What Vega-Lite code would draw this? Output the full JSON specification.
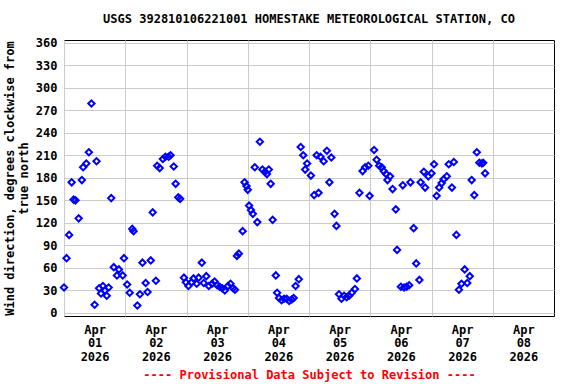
{
  "$schema": "https://vega.github.io/schema/vega-lite/v6.json",
  "width": 490,
  "height": 276,
  "autosize": {"type": "none"},
  "padding": {"left": 64, "top": 40, "right": 22, "bottom": 68},
  "background": "white",
  "title": {
    "text": "USGS 392810106221001 HOMESTAKE METEOROLOGICAL STATION, CO",
    "font": "DejaVu Sans Mono",
    "fontSize": 12,
    "fontWeight": "bold",
    "color": "black",
    "anchor": "middle",
    "offset": 11
  },
  "config": {
    "view": {"stroke": "black", "strokeWidth": 1}
  },
  "data": {
    "values": [
      {"t": "2026-04-01T00:00", "v": 34},
      {"t": "2026-04-01T01:00", "v": 73},
      {"t": "2026-04-01T02:00", "v": 104},
      {"t": "2026-04-01T03:00", "v": 174},
      {"t": "2026-04-01T03:45", "v": 151},
      {"t": "2026-04-01T04:30", "v": 150},
      {"t": "2026-04-01T05:45", "v": 126},
      {"t": "2026-04-01T07:00", "v": 177},
      {"t": "2026-04-01T07:30", "v": 194},
      {"t": "2026-04-01T08:45", "v": 199},
      {"t": "2026-04-01T09:45", "v": 214},
      {"t": "2026-04-01T10:45", "v": 279},
      {"t": "2026-04-01T12:00", "v": 11},
      {"t": "2026-04-01T12:45", "v": 202},
      {"t": "2026-04-01T13:45", "v": 33},
      {"t": "2026-04-01T14:30", "v": 26},
      {"t": "2026-04-01T15:15", "v": 36},
      {"t": "2026-04-01T16:00", "v": 30},
      {"t": "2026-04-01T16:45", "v": 23},
      {"t": "2026-04-01T17:30", "v": 34},
      {"t": "2026-04-01T18:30", "v": 153},
      {"t": "2026-04-01T19:30", "v": 61},
      {"t": "2026-04-01T20:45", "v": 50},
      {"t": "2026-04-01T21:30", "v": 58},
      {"t": "2026-04-01T23:00", "v": 50},
      {"t": "2026-04-01T23:30", "v": 73},
      {"t": "2026-04-02T00:45", "v": 38},
      {"t": "2026-04-02T01:45", "v": 27},
      {"t": "2026-04-02T02:45", "v": 112},
      {"t": "2026-04-02T03:15", "v": 109},
      {"t": "2026-04-02T04:45", "v": 10},
      {"t": "2026-04-02T05:45", "v": 25},
      {"t": "2026-04-02T06:45", "v": 67},
      {"t": "2026-04-02T08:00", "v": 40},
      {"t": "2026-04-02T08:45", "v": 28},
      {"t": "2026-04-02T10:00", "v": 70},
      {"t": "2026-04-02T10:45", "v": 134},
      {"t": "2026-04-02T12:00", "v": 43},
      {"t": "2026-04-02T12:30", "v": 196},
      {"t": "2026-04-02T13:30", "v": 193},
      {"t": "2026-04-02T14:45", "v": 205},
      {"t": "2026-04-02T15:45", "v": 208},
      {"t": "2026-04-02T17:00", "v": 208},
      {"t": "2026-04-02T17:45", "v": 210},
      {"t": "2026-04-02T19:00", "v": 195},
      {"t": "2026-04-02T19:45", "v": 172},
      {"t": "2026-04-02T20:45", "v": 154},
      {"t": "2026-04-02T21:30", "v": 152},
      {"t": "2026-04-02T23:00", "v": 47},
      {"t": "2026-04-02T23:45", "v": 41},
      {"t": "2026-04-03T00:45", "v": 36},
      {"t": "2026-04-03T02:00", "v": 41},
      {"t": "2026-04-03T02:45", "v": 46},
      {"t": "2026-04-03T04:00", "v": 39},
      {"t": "2026-04-03T04:45", "v": 47},
      {"t": "2026-04-03T06:00", "v": 67},
      {"t": "2026-04-03T06:45", "v": 40},
      {"t": "2026-04-03T07:45", "v": 49},
      {"t": "2026-04-03T08:45", "v": 36},
      {"t": "2026-04-03T10:00", "v": 39},
      {"t": "2026-04-03T11:00", "v": 42},
      {"t": "2026-04-03T12:00", "v": 37},
      {"t": "2026-04-03T13:00", "v": 35},
      {"t": "2026-04-03T14:00", "v": 33},
      {"t": "2026-04-03T15:00", "v": 30},
      {"t": "2026-04-03T16:15", "v": 36},
      {"t": "2026-04-03T17:15", "v": 39},
      {"t": "2026-04-03T18:15", "v": 33},
      {"t": "2026-04-03T19:00", "v": 31},
      {"t": "2026-04-03T19:45", "v": 76},
      {"t": "2026-04-03T20:30", "v": 79},
      {"t": "2026-04-03T22:00", "v": 109},
      {"t": "2026-04-03T22:45", "v": 174},
      {"t": "2026-04-03T23:30", "v": 169},
      {"t": "2026-04-04T00:00", "v": 164},
      {"t": "2026-04-04T00:30", "v": 143},
      {"t": "2026-04-04T01:15", "v": 137},
      {"t": "2026-04-04T02:00", "v": 132},
      {"t": "2026-04-04T02:45", "v": 194},
      {"t": "2026-04-04T03:45", "v": 121},
      {"t": "2026-04-04T04:45", "v": 228},
      {"t": "2026-04-04T05:45", "v": 191},
      {"t": "2026-04-04T06:45", "v": 188},
      {"t": "2026-04-04T07:30", "v": 185},
      {"t": "2026-04-04T08:15", "v": 191},
      {"t": "2026-04-04T09:00", "v": 172},
      {"t": "2026-04-04T09:45", "v": 124},
      {"t": "2026-04-04T11:00", "v": 50},
      {"t": "2026-04-04T11:30", "v": 27},
      {"t": "2026-04-04T12:15", "v": 20},
      {"t": "2026-04-04T13:15", "v": 17},
      {"t": "2026-04-04T14:15", "v": 19},
      {"t": "2026-04-04T15:15", "v": 19},
      {"t": "2026-04-04T16:15", "v": 16},
      {"t": "2026-04-04T17:15", "v": 18},
      {"t": "2026-04-04T18:00", "v": 20},
      {"t": "2026-04-04T18:45", "v": 36},
      {"t": "2026-04-04T20:00", "v": 45},
      {"t": "2026-04-04T20:45", "v": 221},
      {"t": "2026-04-04T21:45", "v": 210},
      {"t": "2026-04-04T22:30", "v": 191},
      {"t": "2026-04-04T23:15", "v": 199},
      {"t": "2026-04-05T00:45", "v": 183},
      {"t": "2026-04-05T02:00", "v": 157},
      {"t": "2026-04-05T03:00", "v": 210},
      {"t": "2026-04-05T03:45", "v": 160},
      {"t": "2026-04-05T04:30", "v": 208},
      {"t": "2026-04-05T05:45", "v": 202},
      {"t": "2026-04-05T07:00", "v": 216},
      {"t": "2026-04-05T08:00", "v": 174},
      {"t": "2026-04-05T08:45", "v": 207},
      {"t": "2026-04-05T10:00", "v": 132},
      {"t": "2026-04-05T10:45", "v": 116},
      {"t": "2026-04-05T11:45", "v": 25},
      {"t": "2026-04-05T12:45", "v": 19},
      {"t": "2026-04-05T13:45", "v": 23},
      {"t": "2026-04-05T14:45", "v": 21},
      {"t": "2026-04-05T15:45", "v": 23},
      {"t": "2026-04-05T16:45", "v": 27},
      {"t": "2026-04-05T18:00", "v": 32},
      {"t": "2026-04-05T18:45", "v": 46},
      {"t": "2026-04-05T19:45", "v": 160},
      {"t": "2026-04-05T21:00", "v": 189},
      {"t": "2026-04-05T22:00", "v": 194},
      {"t": "2026-04-05T23:15", "v": 196},
      {"t": "2026-04-05T23:45", "v": 156},
      {"t": "2026-04-06T01:30", "v": 217},
      {"t": "2026-04-06T02:30", "v": 204},
      {"t": "2026-04-06T03:30", "v": 196},
      {"t": "2026-04-06T04:30", "v": 194},
      {"t": "2026-04-06T05:15", "v": 189},
      {"t": "2026-04-06T06:15", "v": 185},
      {"t": "2026-04-06T06:45", "v": 177},
      {"t": "2026-04-06T07:45", "v": 182},
      {"t": "2026-04-06T08:45", "v": 165},
      {"t": "2026-04-06T10:00", "v": 138},
      {"t": "2026-04-06T10:30", "v": 84},
      {"t": "2026-04-06T12:00", "v": 35},
      {"t": "2026-04-06T12:45", "v": 170},
      {"t": "2026-04-06T13:15", "v": 34},
      {"t": "2026-04-06T14:15", "v": 35},
      {"t": "2026-04-06T15:15", "v": 37},
      {"t": "2026-04-06T15:45", "v": 174},
      {"t": "2026-04-06T17:00", "v": 113},
      {"t": "2026-04-06T18:00", "v": 66},
      {"t": "2026-04-06T19:15", "v": 44},
      {"t": "2026-04-06T19:45", "v": 174},
      {"t": "2026-04-06T21:00", "v": 188},
      {"t": "2026-04-06T21:30", "v": 167},
      {"t": "2026-04-06T22:45", "v": 182},
      {"t": "2026-04-07T00:00", "v": 186},
      {"t": "2026-04-07T01:00", "v": 198},
      {"t": "2026-04-07T02:00", "v": 156},
      {"t": "2026-04-07T03:00", "v": 167},
      {"t": "2026-04-07T04:00", "v": 173},
      {"t": "2026-04-07T04:45", "v": 178},
      {"t": "2026-04-07T06:00", "v": 182},
      {"t": "2026-04-07T06:45", "v": 198},
      {"t": "2026-04-07T08:00", "v": 167},
      {"t": "2026-04-07T08:45", "v": 201},
      {"t": "2026-04-07T09:45", "v": 104},
      {"t": "2026-04-07T10:45", "v": 31},
      {"t": "2026-04-07T11:45", "v": 39},
      {"t": "2026-04-07T13:00", "v": 58},
      {"t": "2026-04-07T14:00", "v": 40},
      {"t": "2026-04-07T15:00", "v": 49},
      {"t": "2026-04-07T15:45", "v": 177},
      {"t": "2026-04-07T16:45", "v": 157},
      {"t": "2026-04-07T17:45", "v": 214},
      {"t": "2026-04-07T18:45", "v": 200},
      {"t": "2026-04-07T19:45", "v": 199},
      {"t": "2026-04-07T20:15", "v": 200},
      {"t": "2026-04-07T21:00", "v": 186}
    ]
  },
  "mark": {
    "type": "point",
    "shape": "diamond",
    "filled": false,
    "color": "#0000ff",
    "strokeWidth": 2,
    "size": 40,
    "opacity": 1
  },
  "encoding": {
    "x": {
      "field": "t",
      "type": "temporal",
      "scale": {
        "domain": [
          {"year": 2026, "month": 4, "date": 1, "hours": 0},
          {"year": 2026, "month": 4, "date": 9, "hours": 0}
        ],
        "nice": false
      },
      "axis": {
        "values": [
          {"year": 2026, "month": 4, "date": 1},
          {"year": 2026, "month": 4, "date": 2},
          {"year": 2026, "month": 4, "date": 3},
          {"year": 2026, "month": 4, "date": 4},
          {"year": 2026, "month": 4, "date": 5},
          {"year": 2026, "month": 4, "date": 6},
          {"year": 2026, "month": 4, "date": 7},
          {"year": 2026, "month": 4, "date": 8}
        ],
        "labelExpr": "[timeFormat(datum.value, '%b'), timeFormat(datum.value, '%d'), timeFormat(datum.value, '%Y')]",
        "labelOffset": 30.6,
        "labelAlign": "center",
        "labelFlush": false,
        "labelOverlap": false,
        "ticks": false,
        "domain": false,
        "grid": true,
        "gridColor": "#cccccc",
        "gridWidth": 1,
        "labelFont": "DejaVu Sans Mono",
        "labelFontSize": 12,
        "labelFontWeight": "bold",
        "labelColor": "black",
        "labelLineHeight": 13.5,
        "labelPadding": 8,
        "title": "---- Provisional Data Subject to Revision ----",
        "titleColor": "#ff0000",
        "titleFont": "DejaVu Sans Mono",
        "titleFontSize": 12,
        "titleFontWeight": "bold",
        "titlePadding": 7
      }
    },
    "y": {
      "field": "v",
      "type": "quantitative",
      "scale": {"domain": [-4, 363.5], "nice": false, "zero": false},
      "axis": {
        "values": [0, 30, 60, 90, 120, 150, 180, 210, 240, 270, 300, 330, 360],
        "ticks": false,
        "domain": false,
        "grid": true,
        "gridColor": "#cccccc",
        "gridWidth": 1,
        "labelFont": "DejaVu Sans Mono",
        "labelFontSize": 12,
        "labelFontWeight": "bold",
        "labelColor": "black",
        "labelPadding": 7,
        "title": ["Wind direction, degrees clockwise from", "true north"],
        "titleFont": "DejaVu Sans Mono",
        "titleFontSize": 12,
        "titleFontWeight": "bold",
        "titleColor": "black",
        "titleLineHeight": 14,
        "titlePadding": 5
      }
    }
  }
}
